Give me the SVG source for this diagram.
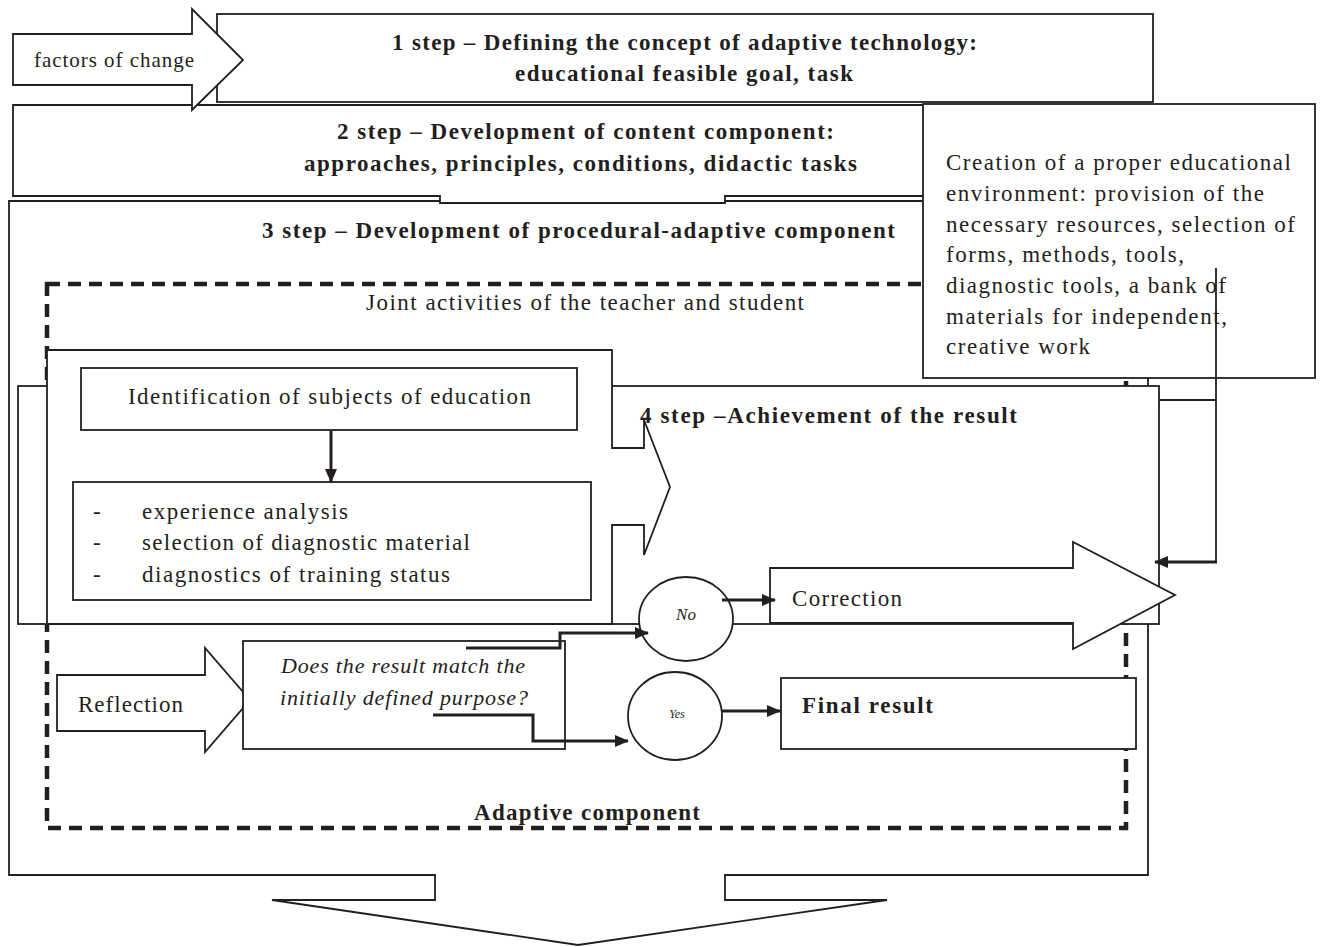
<svg xmlns="http://www.w3.org/2000/svg" width="1320" height="947" viewBox="0 0 1320 947">
<defs>
<marker id="ah" markerWidth="14" markerHeight="12" refX="13" refY="6" orient="auto" markerUnits="userSpaceOnUse"><path d="M0,0 L14,6 L0,12 z" fill="#231f20"/></marker>
<style>
.box{fill:#fff;stroke:#231f20;stroke-width:1.8}
.dash{fill:#fff;stroke:#231f20;stroke-width:4.5;stroke-dasharray:13 8}
.t{font-family:"Liberation Serif","Times New Roman",serif;font-size:23px;fill:#231f20}
.b{font-weight:bold;font-size:23px}
.i{font-style:italic;font-size:22px}
.con{fill:none;stroke:#231f20;stroke-width:3}
.thin{fill:none;stroke:#231f20;stroke-width:1.8}
</style>
</defs>
<rect width="1320" height="947" fill="#fff"/>

<g id="step3">
<polygon class="box" points="9,201 1148,201 1148,875 725,875 725,900 887,900 578,945 272,900 435,900 435,875 9,875"/>
<text class="t b" x="262" y="238" textLength="633" lengthAdjust="spacing">3 step – Development of procedural-adaptive component</text>
</g>

<g id="step2">
<polygon class="box" points="13,105 1000,105 1000,196 725,196 725,203 440,203 440,196 13,196"/>
<text class="t b" x="337" y="139" textLength="497" lengthAdjust="spacing">2 step – Development of content component:</text>
<text class="t b" x="304" y="171" textLength="553" lengthAdjust="spacing">approaches, principles, conditions, didactic tasks</text>
</g>

<g id="step1">
<rect class="box" x="217" y="14" width="936" height="88"/>
<text class="t b" x="392" y="50" textLength="585" lengthAdjust="spacing">1 step – Defining the concept of adaptive technology:</text>
<text class="t b" x="515" y="81" textLength="338" lengthAdjust="spacing">educational feasible goal, task</text>
</g>

<g id="factors">
<polygon class="box" points="13,34 192,34 192,9 243,60 192,110 192,85 13,85"/>
<text class="t" x="34" y="67" textLength="160" lengthAdjust="spacing" style="font-size:21px">factors of change</text>
</g>

<g id="adaptive">
<rect class="dash" x="47" y="284" width="1079" height="544"/>
<text class="t" x="366" y="310" textLength="438" lengthAdjust="spacing">Joint activities of the teacher and student</text>
<text class="t b" x="474" y="820" textLength="226" lengthAdjust="spacing">Adaptive component</text>
</g>

<g id="step4">
<rect class="box" x="18" y="386" width="1141" height="238"/>
<text class="t b" x="640" y="423" textLength="377" lengthAdjust="spacing">4 step –Achievement of the result</text>
</g>

<g id="joint">
<polygon class="box" points="47,350 612,350 612,448 644,448 644,420 670,487 644,555 644,525 612,525 612,624 47,624"/>
</g>

<g id="identification">
<rect class="box" x="81" y="368" width="496" height="62"/>
<text class="t" x="128" y="404" textLength="403" lengthAdjust="spacing">Identification of subjects of education</text>
</g>

<g id="diagnostics">
<rect class="box" x="73" y="482" width="518" height="118"/>
<text class="t" x="93" y="519">-</text>
<text class="t" x="93" y="550">-</text>
<text class="t" x="93" y="582">-</text>
<text class="t" x="142" y="519" textLength="206" lengthAdjust="spacing">experience analysis</text>
<text class="t" x="142" y="550" textLength="328" lengthAdjust="spacing">selection of diagnostic material</text>
<text class="t" x="142" y="582" textLength="308" lengthAdjust="spacing">diagnostics of training status</text>
</g>

<g id="environment">
<rect class="box" x="923" y="104" width="392" height="274"/>
<text class="t" x="946" y="170" textLength="345" lengthAdjust="spacing">Creation of a proper educational</text>
<text class="t" x="946" y="201" textLength="318" lengthAdjust="spacing">environment: provision of the</text>
<text class="t" x="946" y="232" textLength="349" lengthAdjust="spacing">necessary resources, selection of</text>
<text class="t" x="946" y="262" textLength="238" lengthAdjust="spacing">forms, methods, tools,</text>
<text class="t" x="946" y="293" textLength="280" lengthAdjust="spacing">diagnostic tools, a bank of</text>
<text class="t" x="946" y="324" textLength="281" lengthAdjust="spacing">materials for independent,</text>
<text class="t" x="946" y="354" textLength="144" lengthAdjust="spacing">creative work</text>
</g>

<g id="correction">
<polygon class="box" points="770,568 1073,568 1073,542 1175,595 1073,649 1073,623 770,623"/>
<text class="t" x="792" y="606" textLength="110" lengthAdjust="spacing">Correction</text>
</g>

<g id="reflection">
<polygon class="box" points="57,675 205,675 205,648 250,700 205,752 205,731 57,731"/>
<text class="t" x="78" y="712" textLength="105" lengthAdjust="spacing">Reflection</text>
</g>

<g id="question">
<rect class="box" x="243" y="641" width="322" height="108"/>
<text class="t i" x="281" y="673" textLength="244" lengthAdjust="spacing">Does the result match the</text>
<text class="t i" x="280" y="705" textLength="248" lengthAdjust="spacing">initially defined purpose?</text>
</g>

<g id="no">
<ellipse class="box" cx="686" cy="619" rx="47" ry="42"/>
<text class="t i" x="686" y="620" text-anchor="middle" style="font-size:17px">No</text>
</g>

<g id="yes">
<ellipse class="box" cx="675" cy="716" rx="47" ry="44"/>
<text class="t i" x="677" y="718" text-anchor="middle" style="font-size:12px">Yes</text>
</g>

<g id="final">
<rect class="box" x="781" y="678" width="355" height="71"/>
<text class="t b" x="802" y="713" textLength="131" lengthAdjust="spacing">Final result</text>
</g>

<g id="connectors">
<line class="con" x1="331" y1="431" x2="331" y2="482" marker-end="url(#ah)"/>
<polyline class="con" points="466,648 560,648 560,633 648,633" marker-end="url(#ah)"/>
<polyline class="con" points="433,715 533,715 533,741 628,741" marker-end="url(#ah)"/>
<line class="con" x1="722" y1="600" x2="775" y2="600" marker-end="url(#ah)"/>
<line class="con" x1="722" y1="711" x2="780" y2="711" marker-end="url(#ah)"/>
<polyline class="thin" points="1216,268 1216,562"/>
<line class="con" x1="1217" y1="562" x2="1155" y2="562" marker-end="url(#ah)"/>
<line class="thin" x1="1159" y1="400" x2="1216" y2="400"/>
</g>
</svg>
